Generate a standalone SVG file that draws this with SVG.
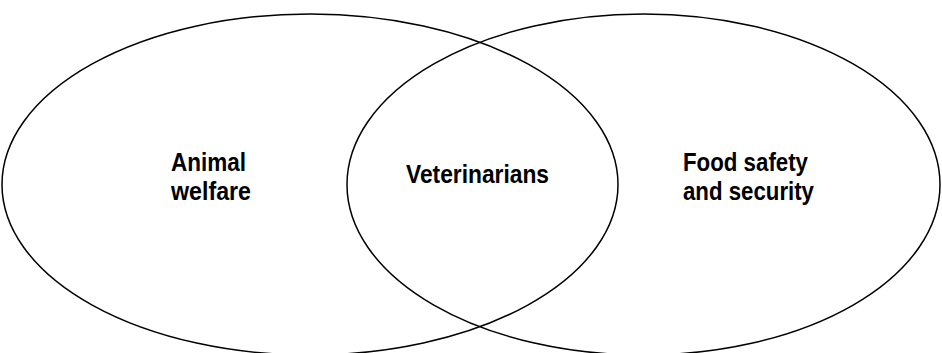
<svg xmlns="http://www.w3.org/2000/svg" width="942" height="353" viewBox="0 0 942 353">
<style>
.c{fill:none;stroke:#000;stroke-width:1.5}
.t{font-family:"Liberation Sans",Arial,sans-serif;font-weight:bold;font-size:26.5px;fill:#000}
</style>
<rect width="942" height="353" fill="#fff"/>
<g id="animal-welfare">
<ellipse class="c" cx="310" cy="184.5" rx="308" ry="170.5"/>
<text class="t" x="171" y="171" textLength="75" lengthAdjust="spacingAndGlyphs">Animal</text>
<text class="t" x="171" y="200" textLength="80" lengthAdjust="spacingAndGlyphs">welfare</text>
</g>
<g id="food-safety">
<ellipse class="c" cx="643.5" cy="184.5" rx="296.5" ry="170.5"/>
<text class="t" x="683" y="171" textLength="125" lengthAdjust="spacingAndGlyphs">Food safety</text>
<text class="t" x="683" y="200" textLength="131" lengthAdjust="spacingAndGlyphs">and security</text>
</g>
<g id="veterinarians">
<text class="t" x="406" y="183" textLength="143" lengthAdjust="spacingAndGlyphs">Veterinarians</text>
</g>
<g id="connectors"/>
</svg>
